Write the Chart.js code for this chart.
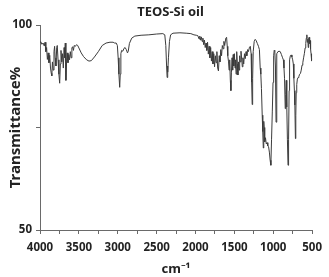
<!DOCTYPE html>
<html>
<head>
<meta charset="utf-8">
<script src="https://cdn.jsdelivr.net/npm/chart.js@4"></script>
<style>
  html, body { margin: 0; padding: 0; background: #fff; }
  #wrap { width: 329px; height: 277px; }
</style>
</head>
<body>
<div id="wrap"><canvas id="irChart" width="329" height="277"></canvas></div>
<script>
var chartTitle = 'TEOS-Si oil';
var xTitle = 'cm\u207B\u00B9';
var yTitle = 'Transmittance%';

// wavenumber (cm-1), high to low
var wavenumbers = [
  4000, 3990, 3975, 3960, 3945, 3935, 3925, 3915, 3905, 3895, 3885, 3875, 3865, 3855, 3848, 3840,
  3830, 3820, 3812, 3805, 3795, 3785, 3778, 3768, 3757, 3747, 3738, 3730, 3720, 3710, 3700, 3690,
  3682, 3675, 3667, 3658, 3650, 3640, 3630, 3620, 3610, 3600, 3590, 3580, 3570, 3560, 3545, 3530,
  3515, 3500, 3470, 3440, 3400, 3370, 3340, 3300, 3250, 3200, 3150, 3100, 3060, 3040, 3020, 3005,
  2995, 2985, 2975, 2968, 2960, 2950, 2935, 2920, 2905, 2890, 2875, 2865, 2850, 2820, 2780, 2700,
  2600, 2500, 2420, 2395, 2382, 2372, 2365, 2360, 2355, 2348, 2335, 2320, 2290, 2200, 2120, 2060,
  2020, 1990, 1970, 1955, 1945, 1935, 1925, 1915, 1905, 1895, 1885, 1875, 1865, 1855, 1845, 1835,
  1825, 1815, 1805, 1795, 1785, 1775, 1765, 1755, 1745, 1735, 1725, 1715, 1705, 1695, 1685, 1675,
  1665, 1655, 1645, 1635, 1625, 1610, 1600, 1592, 1585, 1575, 1568, 1560, 1552, 1545, 1538, 1530,
  1522, 1515, 1508, 1500, 1492, 1485, 1478, 1470, 1462, 1455, 1448, 1440, 1432, 1425, 1415, 1405,
  1398, 1390, 1380, 1370, 1360, 1350, 1340, 1330, 1320, 1305, 1295, 1285, 1278, 1271, 1265, 1258,
  1245, 1232, 1220, 1205, 1190, 1178, 1168, 1160, 1152, 1142, 1135, 1128, 1122, 1117, 1110, 1100,
  1090, 1080, 1070, 1060, 1050, 1040, 1031, 1022, 1012, 1003, 995, 988, 980, 972, 964, 958,
  952, 940, 925, 910, 895, 880, 870, 862, 855, 846, 840, 833, 826, 818, 810, 803,
  796, 790, 780, 770, 760, 750, 742, 735, 728, 722, 715, 710, 705, 698, 690, 680,
  670, 660, 650, 640, 630, 620, 610, 600, 590, 582, 575, 568, 562, 556, 550, 545,
  538, 532, 526, 520, 514, 509, 503, 500
];

// transmittance (%) at each wavenumber
var transmittance = [
  95.8, 95.9, 95.3, 95.6, 94.9, 95.8, 93.5, 94.5, 91.6, 93.2, 90.8, 92.6, 89.5, 88.2, 87.6, 91.0,
  89.0, 93.5, 94.8, 92.0, 90.0, 94.5, 95.0, 91.5, 88.0, 85.8, 90.5, 93.8, 91.0, 93.0, 89.5, 94.5,
  92.0, 95.6, 86.5, 91.0, 93.2, 90.8, 92.8, 91.5, 93.5, 92.0, 94.4, 94.7, 93.8, 95.0, 94.8, 95.2,
  95.0, 94.4, 93.2, 92.3, 91.5, 91.2, 91.3, 92.2, 93.5, 95.0, 95.6, 95.8, 95.8, 95.6, 95.6, 95.0,
  92.0, 88.0, 84.8, 88.0, 93.0, 93.8, 93.6, 94.3, 94.5, 94.0, 93.2, 93.6, 95.5, 96.8, 97.3, 97.5,
  97.6, 97.8, 97.9, 97.6, 95.0, 90.0, 87.2, 90.0, 88.5, 92.0, 96.0, 97.6, 98.0, 98.1, 98.0, 97.9,
  97.6, 97.5, 97.4, 96.6, 97.3, 96.3, 97.1, 96.0, 96.8, 95.2, 96.3, 94.5, 95.6, 93.8, 95.8, 92.9,
  94.8, 92.0, 94.5, 91.2, 93.5, 90.5, 93.0, 89.8, 92.5, 90.8, 93.5, 89.5, 88.8, 92.5, 91.0, 94.0,
  92.5, 95.0, 94.2, 96.0, 95.0, 96.8, 97.0, 94.8, 92.5, 91.0, 89.0, 91.5, 86.5, 84.0, 88.5, 92.0,
  89.0, 92.8, 90.0, 93.0, 89.5, 91.5, 88.0, 93.5, 90.5, 87.8, 91.0, 89.0, 92.5, 91.0, 93.6, 91.5,
  89.8, 92.0, 90.5, 93.0, 91.8, 93.5, 92.5, 94.0, 93.5, 94.6, 94.8, 93.0, 86.0, 80.6, 87.0, 93.5,
  96.0, 96.5, 96.2, 95.5, 94.8, 94.0, 89.5, 88.0, 84.5, 78.0, 74.0, 70.0, 76.5, 75.0, 71.5, 72.5,
  71.0, 71.3, 70.5, 70.3, 69.0, 67.0, 65.8, 72.0, 79.0, 86.0, 92.5, 93.8, 93.6, 90.0, 76.3, 84.0,
  93.0, 93.5, 93.6, 93.5, 92.8, 92.0, 91.5, 89.5, 87.0, 79.6, 83.0, 86.5, 80.0, 72.0, 65.8, 72.0,
  84.0, 91.5, 92.5, 92.7, 92.2, 91.5, 90.5, 87.0, 84.0, 80.5, 72.3, 78.0, 83.5, 85.5, 86.8, 87.2,
  87.5, 88.0, 88.2, 89.0, 90.2, 90.8, 92.0, 93.0, 94.4, 95.5, 96.8, 97.6, 95.8, 96.5, 94.5, 96.8,
  97.0, 95.5, 96.2, 94.2, 93.0, 91.2, 92.0, 91.5
];

var xMin = 500, xMax = 4000, xStep = 250, xLabelStep = 500;
var yMin = 50, yMax = 100, yStep = 25;
var yLabelled = [50, 100];

var axisGray = '#6a6a6a';
var textColor = '#222';

Chart.defaults.font.family = "'Noto Sans', sans-serif";
Chart.defaults.color = textColor;

// chart title drawn a bit right of centre like the original
var titlePlugin = {
  id: 'spectrumTitle',
  afterDraw: function(chart) {
    var ctx = chart.ctx;
    ctx.save();
    ctx.font = "bold 13px 'Noto Sans', sans-serif";
    ctx.fillStyle = textColor;
    ctx.textAlign = 'center';
    ctx.textBaseline = 'middle';
    ctx.fillText(chartTitle, 170.5, 12);
    ctx.restore();
  }
};

var ctx = document.getElementById('irChart').getContext('2d');
var irChart = new Chart(ctx, {
  type: 'line',
  data: {
    datasets: [{
      label: chartTitle,
      data: wavenumbers.map(function(w, i) { return { x: w, y: transmittance[i] }; }),
      borderColor: '#3c3c3c',
      borderWidth: 1,
      pointRadius: 0,
      tension: 0,
      fill: false
    }]
  },
  options: {
    responsive: false,
    animation: false,
    layout: { padding: { top: 25, right: 12, left: 0, bottom: 0 } },
    plugins: {
      legend: { display: false },
      title: { display: false },
      tooltip: { enabled: false }
    },
    scales: {
      x: {
        type: 'linear',
        reverse: true,
        min: xMin,
        max: xMax,
        afterFit: function(scale) { scale.height = 47; },
        border: { display: true, color: axisGray, width: 1 },
        grid: { display: true, drawOnChartArea: false, drawTicks: true, tickLength: 4, color: axisGray },
        ticks: {
          stepSize: xStep,
          autoSkip: false,
          maxRotation: 0,
          padding: 7,
          font: { size: 11.5, weight: 'bold' },
          callback: function(v) { return v % xLabelStep === 0 ? String(v) : ''; }
        },
        title: {
          display: true,
          text: xTitle,
          font: { size: 13, weight: 'bold' },
          padding: { top: 0, bottom: 0 }
        }
      },
      y: {
        min: yMin,
        max: yMax,
        afterFit: function(scale) { scale.width = 40; },
        border: { display: true, color: axisGray, width: 1 },
        grid: { display: true, drawOnChartArea: false, drawTicks: true, tickLength: 4, color: axisGray },
        ticks: {
          stepSize: yStep,
          padding: 4,
          font: { size: 11.5, weight: 'bold' },
          callback: function(v) { return yLabelled.indexOf(v) >= 0 ? String(v) : ''; }
        },
        title: {
          display: true,
          text: yTitle,
          font: { size: 15, weight: 'bold' },
          padding: { top: 7, bottom: 0 }
        }
      }
    }
  },
  plugins: [titlePlugin]
});
</script>
</body>
</html>
